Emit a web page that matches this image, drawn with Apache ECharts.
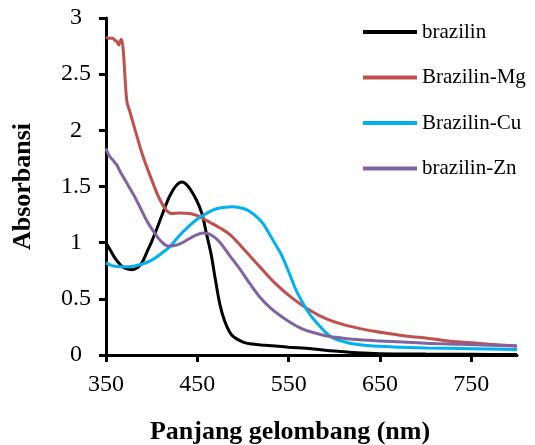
<!DOCTYPE html>
<html>
<head>
<meta charset="utf-8">
<script src="https://cdn.jsdelivr.net/npm/echarts@6/dist/echarts.min.js"></script>
<style>
html,body{margin:0;padding:0;background:#fff;}
#c{width:535px;height:445px;}
</style>
</head>
<body>
<div id="c"></div>
<script>
// ---- data ----
var seriesNames = ['brazilin', 'Brazilin-Mg', 'Brazilin-Cu', 'brazilin-Zn'];
var xTicks = [350, 450, 550, 650, 750];
var yTicks = [0, 0.5, 1, 1.5, 2, 2.5, 3];

var wlBrazilin = [350,355,360,365,370,378,385,390,395,400,405,412,420,427,433,440,449,455,460,465,470,475,480,485,490,500,510,520,535,550,575,600,625,650,700,750,800];
var absBrazilin = [1.00,0.93,0.86,0.81,0.775,0.76,0.78,0.83,0.92,1.01,1.11,1.26,1.42,1.51,1.54,1.50,1.38,1.26,1.08,0.90,0.66,0.44,0.30,0.21,0.16,0.115,0.097,0.09,0.08,0.07,0.055,0.035,0.02,0.012,0.008,0.006,0.005];

var wlMg = [350,353,357,360,362,364,366,367,369,371,373,376,382,390,400,408,416,422,430,442,450,455,464,475,486,500,519,535,555,575,592,610,628,645,665,683,702,720,738,770,800];
var absMg = [2.83,2.82,2.82,2.80,2.79,2.76,2.80,2.81,2.70,2.45,2.25,2.17,2.00,1.78,1.56,1.40,1.29,1.26,1.265,1.26,1.24,1.22,1.18,1.13,1.07,0.95,0.78,0.64,0.50,0.39,0.32,0.27,0.235,0.21,0.185,0.165,0.15,0.13,0.115,0.095,0.08];

var wlCu = [350,355,360,370,380,390,400,410,420,430,440,450,460,470,480,488,495,505,515,522,528,533,538,541,546,552,558,563,570,577,585,592,599,610,620,636,665,700,750,800];
var absCu = [0.82,0.80,0.79,0.785,0.79,0.81,0.845,0.90,0.965,1.06,1.14,1.21,1.26,1.30,1.315,1.32,1.315,1.29,1.23,1.17,1.09,1.02,0.95,0.91,0.82,0.70,0.58,0.50,0.40,0.32,0.25,0.19,0.15,0.12,0.10,0.085,0.072,0.063,0.056,0.05];

var wlZn = [350,353,358,362,365,370,375,380,387,395,402,410,418,425,431,440,448,456,462,470,475,485,497,508,519,530,541,552,563,575,592,610,628,645,665,700,738,770,800];
var absZn = [1.84,1.78,1.73,1.69,1.64,1.57,1.50,1.43,1.32,1.19,1.10,1.015,0.97,0.975,0.99,1.03,1.065,1.085,1.08,1.04,1.00,0.89,0.76,0.63,0.51,0.42,0.35,0.29,0.24,0.205,0.17,0.15,0.135,0.127,0.12,0.105,0.095,0.087,0.08];

var colors = ['#000000', '#C0504D', '#00B0F0', '#8064A2'];
var wls = [wlBrazilin, wlMg, wlCu, wlZn];
var abss = [absBrazilin, absMg, absCu, absZn];

function pairs(xs, ys) {
  var out = [];
  for (var i = 0; i < xs.length; i++) out.push([xs[i], ys[i]]);
  return out;
}

var FONT = 'Liberation Serif';
var chart = echarts.init(document.getElementById('c'), null, {renderer: 'canvas'});

var series = seriesNames.map(function (n, i) {
  return {
    name: n,
    type: 'line',
    data: pairs(wls[i], abss[i]),
    showSymbol: false,
    symbol: 'none',
    smooth: 0.35,
    lineStyle: {color: colors[i], width: 3},
    itemStyle: {color: colors[i]},
    z: 2 + i
  };
});

chart.setOption({
  animation: false,
  backgroundColor: '#ffffff',
  grid: {left: 106, right: 18, top: 18, bottom: 90, containLabel: false, outerBoundsMode: 'none'},
  legend: {
    orient: 'vertical',
    left: 363,
    top: 20,
    padding: 0,
    icon: 'rect',
    itemWidth: 54,
    itemHeight: 4,
    itemGap: 21.5,
    data: seriesNames,
    textStyle: {fontFamily: FONT, fontSize: 21, color: '#000', lineHeight: 24}
  },
  xAxis: {
    type: 'value',
    min: 350,
    max: 800,
    interval: 100,
    name: 'Panjang gelombang (nm)',
    nameLocation: 'middle',
    nameGap: 64,
    nameTextStyle: {fontFamily: FONT, fontSize: 26, fontWeight: 'bold', color: '#000', padding: [0, 43, 0, 0]},
    splitLine: {show: false},
    axisLine: {show: true, onZero: false, lineStyle: {color: '#000', width: 3}},
    axisTick: {show: true, length: 7, inside: false, lineStyle: {color: '#000', width: 3}, customValues: xTicks},
    axisLabel: {fontFamily: FONT, fontSize: 24, color: '#000', margin: 18, customValues: xTicks}
  },
  yAxis: {
    type: 'value',
    min: 0,
    max: 3,
    interval: 0.5,
    name: 'Absorbansi',
    nameLocation: 'middle',
    nameGap: 70,
    nameRotate: 90,
    nameTextStyle: {fontFamily: FONT, fontSize: 26, fontWeight: 'bold', color: '#000'},
    splitLine: {show: false},
    axisLine: {show: true, onZero: false, lineStyle: {color: '#000', width: 3}},
    axisTick: {show: true, length: 7, inside: false, lineStyle: {color: '#000', width: 3}},
    axisLabel: {
      fontFamily: FONT, fontSize: 24, color: '#000', margin: 15,
      formatter: function (v) {
        if (Math.abs(v - Math.round(v)) < 1e-9) return '{i|' + Math.round(v) + '}';
        return '{d|' + v + '}';
      },
      rich: {
        i: {fontFamily: FONT, fontSize: 24, color: '#000', padding: [0, 9, 0, 0]},
        d: {fontFamily: FONT, fontSize: 24, color: '#000'}
      }
    }
  },
  series: series
});
</script>
</body>
</html>
